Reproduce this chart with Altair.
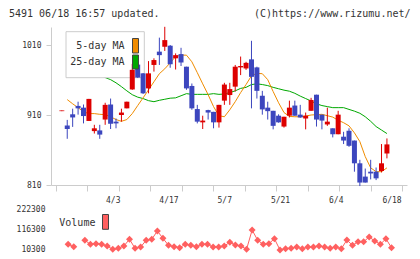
import altair as alt
import pandas as pd

MONO = "DejaVu Sans Mono"
RED = "#dd0000"
BLUE = "#3c46be"
ORANGE = "#f08c00"
GREEN = "#00a800"
VOLC = "#ff6060"
AXC = "#cccccc"
TXT = "#333333"

# ---- data ----
opens = [915.5, 895, 911, 923, 920.5, 901.5, 887, 888, 903.5, 925, 900.5, 910, 919.5, 946.5, 982,
         969.5, 948, 981.5, 1000.5, 1007.5, 1009, 991, 997, 979, 951.5, 918.5, 899.5, 917, 914.5, 899.5,
         930.5, 938.5, 950.5, 978, 976.5, 989.5, 978, 937.5, 920.5, 916, 909, 893.5, 909, 923.5, 910.5,
         905, 916, 939, 910.5, 896.5, 891, 882.5, 879, 887.5, 873.5, 841, 822, 829, 829, 830, 855]
closes = [916.5, 890, 906.5, 919.5, 908.5, 933, 891, 882, 924.5, 897.5, 898, 913.5, 929, 974.5, 963.5,
          941, 969.5, 988.5, 995.5, 1017, 982.5, 995.5, 985, 948, 919.5, 900.5, 902, 913.5, 899.5, 924.5,
          953.5, 947, 979, 980, 984.5, 964.5, 944.5, 918, 915.5, 894.5, 899.5, 907.5, 920.5, 909, 906.5,
          909, 931.5, 903.5, 902, 900.5, 882.5, 910.5, 873.5, 866, 841, 813.5, 813.5, 826.5, 819.5, 841, 868]
highs = [916.5, 903, 919, 929, 925, 933, 896, 896, 927.5, 933.5, 905, 919, 929, 983, 983,
         970, 987, 991, 1020.5, 1036, 1010, 998, 1006, 979, 955, 924.5, 909, 917.5, 914.5, 924.5,
         956, 956, 981.5, 993.5, 986, 1016, 979, 944.5, 929, 916, 911, 907.5, 930.5, 930.5, 924.5,
         913.5, 934.5, 939, 910.5, 920.5, 891, 916, 886, 891, 873.5, 846, 833.5, 846, 835, 868.5, 876.5]
lows = [915.5, 876, 893, 910.5, 898, 901.5, 883.5, 876, 896, 890, 891, 900.5, 919.5, 946, 963,
        940, 941, 972, 981.5, 1001.5, 977.5, 975, 980, 946, 917.5, 898, 890, 903.5, 891, 892,
        924.5, 924.5, 943.5, 967, 974.5, 919.5, 933.5, 910.5, 903.5, 889.5, 899, 892, 906.5, 909, 906,
        889.5, 916, 893.5, 889.5, 894.5, 878, 882.5, 868.5, 864.5, 829, 808.5, 813.5, 818, 817, 828, 848]
ma5 = [None, 932, 926, 920.5, 914.5, 912, 912, 911, 910.5, 907.5, 903.5, 901, 903.5, 912, 923.5,
       934.5, 946, 957.5, 969, 976, 984.5, 993.5, 995.5, 995.5, 986, 970.5, 954.5, 939, 922, 909,
       907.5, 917.5, 929, 942, 953.5, 966, 969.5, 969, 960.5, 943.5, 927.5, 913.5, 908, 907.5, 907.5,
       908.5, 910, 910.5, 911, 909, 907, 902.5, 899, 894.5, 884.5, 872, 850.5, 834.5, 829, 829, 834.5]
ma25 = [None, 1000.5, 994.5, 989, 983.5, 977.5, 972, 967.5, 963.5, 960.5, 956, 950.5, 944.5, 939, 935.5,
        933.5, 930.5, 929, 931, 932.5, 934, 934.5, 937.5, 940.5, 939.5, 939.5, 939.5, 939.5, 940.5, 939.5,
        940, 942, 944.5, 948, 949.5, 953.5, 954.5, 953.5, 952, 949.5, 947.5, 945.5, 944, 941, 937,
        933.5, 930, 926, 923.5, 922, 920.5, 920.5, 920.5, 918, 915.5, 912.5, 907.5, 901, 893.5, 888.5, 883.5]
volume = [None, None, 37200, 24300, None, 58700, 37200, 40400, 37200, 28100, 10300, 15700, 28100, 64100, 15700,
          22700, 58700, 64100, 108800, 69500, 31800, 24300, 18900, 37200, 31800, 24300, 37200, 37200, 22700, 22700,
          28100, 48000, 33400, 28100, 10300, 114200, 58700, 37200, 40400, 67300, 6500, 13500, 15700, 22700, 13500,
          22700, 22700, 28100, 22700, 15700, 22700, 13500, 60300, 31800, 51200, 51200, 76500, 55000, 37200, 67300, 18900]
date_pos = [10, 20, 30, 40, 50, 60]
date_labels = ["4/3", "4/17", "5/7", "5/21", "6/4", "6/18"]
price_ticks = [810, 910, 1010]
volume_ticks = [10300, 116300, 222300]
ma_names = ["5-day MA", "25-day MA"]

df = pd.DataFrame({
    "i": list(range(len(opens))), "open": opens, "close": closes, "high": highs, "low": lows,
    "ma5": ma5, "ma25": ma25, "vol": volume,
})
df["dir"] = ["up" if c >= o else "down" for o, c in zip(opens, closes)]

# ---- layout ----
W = 356
H_PRICE = 158
H_VOL = 45
XMIN, XMAX = -1.076, 62.78
xscale = alt.Scale(domain=[XMIN, XMAX], nice=False, zero=False)
yscale = alt.Scale(domain=[810, 810 + H_PRICE / 0.7], nice=False, zero=False)
vscale = alt.Scale(domain=[-4229, 237916], nice=False, zero=False)
colscale = alt.Scale(domain=["up", "down"], range=[RED, BLUE])

x_ticks = [XMIN + k * (XMAX - XMIN) / 11 for k in range(12)]
x_axis_top = alt.Axis(values=x_ticks, labels=False, tickSize=6, tickColor=AXC, domainColor=AXC,
                      grid=False, title=None)
y_axis = alt.Axis(values=price_ticks, format="d", tickSize=5, tickColor=AXC, domainColor=AXC, labelPadding=5,
                  grid=False, title=None, labelFont=MONO, labelFontSize=8, labelColor=TXT)

expr = "''"
for p, l in zip(reversed(date_pos), reversed(date_labels)):
    expr = f"datum.value == {p} ? '{l}' : ({expr})"
x_axis_dates = alt.Axis(orient="top", values=date_pos, labelExpr=expr, ticks=False, domain=False,
                        labelPadding=3, grid=False, title=None, labelFont=MONO, labelFontSize=8,
                        labelColor=TXT)
v_axis = alt.Axis(values=volume_ticks, domain=False, ticks=False, labelPadding=6, grid=False, title=None,
                  format="d", labelFont=MONO, labelFontSize=8, labelColor=TXT)

one = pd.DataFrame({"k": [0]})
base = alt.Chart(df).encode(x=alt.X("i:Q", scale=xscale, axis=x_axis_top))

ma5_line = base.mark_line(color=ORANGE, strokeWidth=1).encode(y=alt.Y("ma5:Q", scale=yscale, axis=y_axis))
ma25_line = base.mark_line(color=GREEN, strokeWidth=1).encode(y=alt.Y("ma25:Q", scale=yscale, axis=y_axis))
box = alt.Chart(one).mark_rect(fill="white", stroke=AXC, strokeWidth=1).encode(
    x=alt.value(15), x2=alt.value(93.3), y=alt.value(4.7), y2=alt.value(50.7))
wicks = base.mark_rule(strokeWidth=1).encode(
    y=alt.Y("low:Q", scale=yscale, axis=y_axis), y2="high:Q",
    color=alt.Color("dir:N", scale=colscale, legend=None))
bodies = base.mark_bar(size=5).encode(
    y=alt.Y("open:Q", scale=yscale, axis=y_axis), y2="close:Q",
    color=alt.Color("dir:N", scale=colscale, legend=None))
leg_t1 = alt.Chart(one).mark_text(text=ma_names[0], align="right", baseline="middle", font=MONO,
                                  fontSize=10, color=TXT).encode(x=alt.value(73.5), y=alt.value(19.3))
leg_t2 = alt.Chart(one).mark_text(text=ma_names[1], align="right", baseline="middle", font=MONO,
                                  fontSize=10, color=TXT).encode(x=alt.value(73.5), y=alt.value(35.3))
sw1 = alt.Chart(one).mark_rect(fill=ORANGE, stroke="#444444", strokeWidth=1).encode(
    x=alt.value(81.5), x2=alt.value(87.5), y=alt.value(11.5), y2=alt.value(26))
sw2 = alt.Chart(one).mark_rect(fill=GREEN, stroke="#444444", strokeWidth=1).encode(
    x=alt.value(81.5), x2=alt.value(87.5), y=alt.value(28), y2=alt.value(42))
head_l = alt.Chart(one).mark_text(text="5491 06/18 16:57 updated.", align="left", baseline="middle",
                                  font=MONO, fontSize=10, color=TXT).encode(x=alt.value(-42), y=alt.value(-13.5))
head_r = alt.Chart(one).mark_text(text="(C)https://www.rizumu.net/", align="right", baseline="middle",
                                  font=MONO, fontSize=10, color=TXT).encode(x=alt.value(359.5), y=alt.value(-13.5))

top = alt.layer(ma25_line, ma5_line, box, wicks, bodies, leg_t1, leg_t2, sw1, sw2, head_l, head_r).properties(
    width=W, height=H_PRICE)

vbase = alt.Chart(df).encode(x=alt.X("i:Q", scale=xscale, axis=x_axis_dates))
vline = vbase.mark_line(color=VOLC, strokeWidth=1).encode(y=alt.Y("vol:Q", scale=vscale, axis=v_axis))
vpts = vbase.mark_point(shape="diamond", filled=True, size=49, color=VOLC, opacity=1).encode(
    y=alt.Y("vol:Q", scale=vscale, axis=v_axis))
vleg_t = alt.Chart(one).mark_text(text="Volume", align="left", baseline="middle", font=MONO, fontSize=10,
                                  color=TXT).encode(x=alt.value(8.3), y=alt.value(15.7))
vleg_s = alt.Chart(one).mark_rect(fill=VOLC, stroke="#444444", strokeWidth=1).encode(
    x=alt.value(51.5), x2=alt.value(57.5), y=alt.value(7.5), y2=alt.value(22.3))
vol = alt.layer(vline, vpts, vleg_t, vleg_s).properties(width=W, height=H_VOL)

chart = alt.vconcat(top, vol, spacing=22, bounds="flush").properties(
    padding={"left": 8, "top": 8, "right": 0, "bottom": 0}
).configure_view(stroke="transparent")

chart.save("out.html", embed_options={"renderer": "svg", "actions": False})
